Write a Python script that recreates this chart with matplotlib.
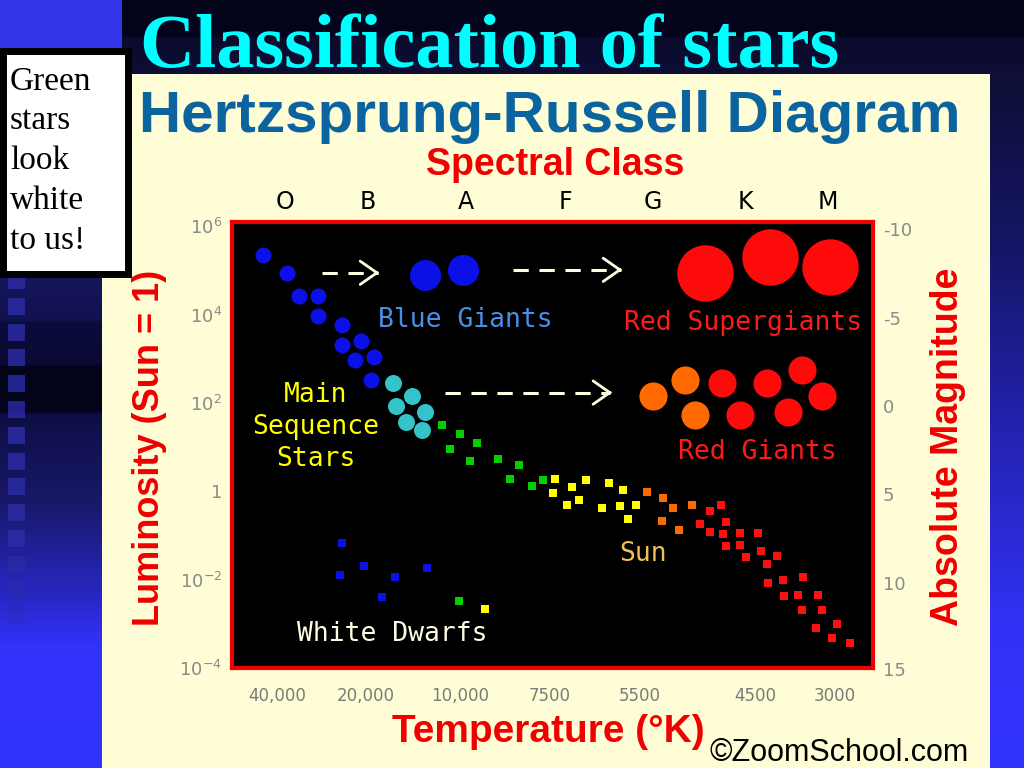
import numpy as np
import matplotlib
matplotlib.use("Agg")
import matplotlib.pyplot as plt
from matplotlib.patches import Rectangle

plt.rcParams["axes.unicode_minus"] = False

# x = spectral position (O=0 ... M=6), y = log10(L / Lsun)
class_labels = ["O", "B", "A", "F", "G", "K", "M"]
class_pos = [0.0, 0.917, 2.0, 3.094, 4.066, 5.083, 6.0]
temp_labels = ["40,000", "20,000", "10,000", "7500", "5500", "4500", "3000"]
temp_pos = [-0.088, 0.895, 1.934, 2.928, 3.923, 5.193, 6.077]
lum_pos = [6, 4, 2, 0, -2, -4]
lum_labels = [r"10$^6$", r"10$^4$", r"10$^2$", "1", r"10$^{-2}$", r"10$^{-4}$"]
mag_ticks = [-10, -5, 0, 5, 10, 15]

# main sequence, hot end (circles)
ms_blue_x = [-0.243, 0.022, 0.155, 0.365, 0.365, 0.630, 0.630, 0.840, 0.773, 0.983, 0.950]
ms_blue_y = [5.356, 4.949, 4.429, 4.429, 3.977, 3.774, 3.322, 3.412, 2.983, 3.051, 2.531]
ms_cyan_x = [1.193, 1.403, 1.227, 1.547, 1.337, 1.514]
ms_cyan_y = [2.463, 2.169, 1.944, 1.808, 1.582, 1.379]

# main sequence, cooler part (squares)
ms_green_x = [1.735, 1.934, 2.122, 1.823, 2.044, 2.354, 2.586, 2.486, 2.729, 2.851]
ms_green_y = [1.514, 1.288, 1.085, 0.949, 0.678, 0.723, 0.588, 0.271, 0.113, 0.249]
ms_yellow_x = [2.983, 2.961, 3.171, 3.326, 3.116, 3.249, 3.580, 3.503, 3.735, 3.702, 3.878, 3.790]
ms_yellow_y = [0.271, -0.045, 0.090, 0.249, -0.316, -0.203, 0.181, -0.384, 0.023, -0.339, -0.316, -0.633]
ms_orange_x = [4.000, 4.177, 4.287, 4.166, 4.354, 4.497]
ms_orange_y = [-0.023, -0.158, -0.384, -0.678, -0.881, -0.316]
ms_red_x = [4.818, 4.696, 4.586, 4.873, 4.696, 4.840, 5.028, 5.227, 4.873, 5.028, 5.094,
            5.260, 5.436, 5.326, 5.337, 5.503, 5.724, 5.514, 5.669, 5.890, 5.713, 5.934,
            5.867, 6.099, 6.044, 6.243]
ms_red_y = [-0.316, -0.452, -0.746, -0.701, -0.927, -0.972, -0.949, -0.949, -1.243, -1.220, -1.492,
            -1.356, -1.469, -1.650, -2.079, -2.011, -1.944, -2.373, -2.350, -2.350, -2.689, -2.689,
            -3.096, -3.006, -3.322, -3.435]

# giants
blue_giant_x = [1.547, 1.967]
blue_giant_y = [4.904, 5.017]
supergiant_x = [4.641, 5.359, 6.022]
supergiant_y = [4.949, 5.311, 5.085]
red_giant_orange_x = [4.066, 4.420, 4.530]
red_giant_orange_y = [2.169, 2.531, 1.740]
red_giant_red_x = [4.829, 5.028, 5.326, 5.713, 5.558, 5.934]
red_giant_red_y = [2.463, 1.740, 2.463, 2.757, 1.808, 2.169]

# white dwarfs
wd_blue_x = [0.630, 0.873, 0.608, 1.215, 1.569, 1.072]
wd_blue_y = [-1.175, -1.695, -1.898, -1.944, -1.740, -2.395]
wd_green_x = [1.923]
wd_green_y = [-2.486]
wd_yellow_x = [2.210]
wd_yellow_y = [-2.667]

# arrows (start x, end x, y)
arrows = [(0.409, 1.072, 4.95), (2.519, 3.757, 5.017), (1.768, 3.646, 2.237)]


def lum_to_mag(L):
    return 4.83 - 2.5 * L


def mag_to_lum(M):
    return (4.83 - M) / 2.5


W, H = 1024, 768
fig = plt.figure(figsize=(W / 100, H / 100), dpi=100)

# ---- slide background ----
bg = fig.add_axes([0, 0, 1, 1])
bg.set_xlim(0, W)
bg.set_ylim(H, 0)
bg.axis("off")


def grad(stops):
    ys = [s[0] for s in stops]
    cols = np.array([matplotlib.colors.to_rgb(s[1]) for s in stops])
    rows = np.arange(H)
    return np.stack([np.interp(rows, ys, cols[:, k]) for k in range(3)], axis=1)


general = grad([(0, "#03031a"), (35, "#04041c"), (38, "#0b0b2c"), (75, "#0e0e36"),
                (250, "#161668"), (450, "#2424b8"), (620, "#3131f5"), (767, "#3333ff")])
left = grad([(0, "#16165c"), (277, "#16165c"), (318, "#12124e"), (322, "#0c0c3c"),
             (363, "#0a0a34"), (367, "#03031a"), (410, "#03031a"), (414, "#0e0e44"),
             (500, "#181868"), (600, "#2828c8"), (645, "#3232fa"), (767, "#3333ff")])
img = np.repeat(general[:, None, :], W, axis=1)
img[:, :102] = left[:, None, :]
img[:48, :122] = matplotlib.colors.to_rgb("#3434e8")
bg.imshow(img, extent=(0, W, H, 0), aspect="auto", zorder=0)

for top_y in np.arange(272, 640, 25.8):
    a = 0.8 if top_y < 540 else max(0.0, 0.8 - (top_y - 540) / 110)
    bg.add_patch(Rectangle((8, top_y), 17, 17, color="#2c2ca8", alpha=a, lw=0, zorder=1))

# cream panel holding the diagram
bg.add_patch(Rectangle((102, 74), 888, H - 74, color="#fffdd5", lw=0, zorder=2))

# note box
bg.add_patch(Rectangle((3, 51), 125, 223, facecolor="white", edgecolor="black", lw=5, zorder=3))
bg.text(10, 66, "Green\nstars\nlook\nwhite\nto us!", family="Liberation Serif", fontsize=24,
        va="top", ha="left", linespacing=1.4, color="black", zorder=4)

bg.text(140, 67, "Classification of stars", family="Liberation Serif", weight="bold",
        fontsize=55, color="#00ffff", va="baseline", ha="left", zorder=4)
bg.text(550, 132, "Hertzsprung-Russell Diagram", family="Liberation Sans", weight="bold",
        fontsize=42, color="#0b64a0", va="baseline", ha="center", zorder=4)
bg.text(710, 761, "\u00a9ZoomSchool.com", family="Liberation Sans", fontsize=22,
        color="black", va="baseline", ha="left", zorder=4)

# ---- HR diagram ----
ax = fig.add_axes([232 / W, 1 - 668 / H, (873 - 232) / W, (668 - 222) / H])
ax.set_facecolor("black")
ax.set_xlim(-0.586, 6.497)
ax.set_ylim(-3.98, 6.10)
for sp in ax.spines.values():
    sp.set_color("#ee0000")
    sp.set_linewidth(3)

mono = "DejaVu Sans Mono"

# arrows
for x0, x1, y in arrows:
    ax.plot([x0, x1 - 0.05], [y, y], color="#fffde0", lw=2.2, dashes=(5, 3.5))
    ax.annotate("", xy=(x1, y), xytext=(x1 - 0.1, y),
                arrowprops=dict(arrowstyle="->,head_length=0.6,head_width=0.42",
                                color="#fffde0", lw=2, mutation_scale=20))

ax.scatter(ms_blue_x, ms_blue_y, s=133, color="#0a10e6", lw=0, zorder=3)
ax.scatter(ms_cyan_x, ms_cyan_y, s=150, color="#33c3c8", lw=0, zorder=3)
ax.scatter(blue_giant_x, blue_giant_y, s=500, color="#0a10e6", lw=0, zorder=3)
ax.scatter(supergiant_x, supergiant_y, s=1650, color="#ff0a0a", lw=0, zorder=3)
ax.scatter(red_giant_orange_x, red_giant_orange_y, s=410, color="#ff6a00", lw=0, zorder=3)
ax.scatter(red_giant_red_x, red_giant_red_y, s=410, color="#ff0a0a", lw=0, zorder=3)

ax.scatter(ms_green_x, ms_green_y, s=36, marker="s", color="#00d000", lw=0, zorder=3)
ax.scatter(ms_yellow_x, ms_yellow_y, s=40, marker="s", color="#ffff00", lw=0, zorder=3)
ax.scatter(ms_orange_x, ms_orange_y, s=40, marker="s", color="#ff6a00", lw=0, zorder=3)
ax.scatter(ms_red_x, ms_red_y, s=36, marker="s", color="#ff1010", lw=0, zorder=3)

ax.scatter(wd_blue_x, wd_blue_y, s=28, marker="s", color="#0a10e6", lw=0, zorder=3)
ax.scatter(wd_green_x, wd_green_y, s=28, marker="s", color="#00d000", lw=0, zorder=3)
ax.scatter(wd_yellow_x, wd_yellow_y, s=28, marker="s", color="#ffff00", lw=0, zorder=3)

# region labels
lab = dict(family=mono, fontsize=19, ha="center", va="center", zorder=4)
ax.text(1.989, 3.87, "Blue Giants", color="#4a8fe7", **lab)
ax.text(5.061, 3.82, "Red Supergiants", color="#ff1a1a", **lab)
ax.text(0.34, 1.45, "Main\nSequence\nStars", color="#ffff00", linespacing=1.3, **lab)
ax.text(5.215, 0.90, "Red Giants", color="#ff1a1a", **lab)
ax.text(3.956, -1.42, "Sun", color="#f0c050", **lab)
ax.text(1.182, -3.23, "White Dwarfs", color="#fffde0", **lab)

# axes ticks and labels
ax.set_xticks(temp_pos, temp_labels)
ax.set_yticks(lum_pos, lum_labels)
ax.tick_params(axis="x", length=0, pad=14, labelsize=12, labelcolor="#7a7a7a")
ax.tick_params(axis="y", length=0, pad=7, labelsize=13, labelcolor="#8a8a8a")

top = ax.secondary_xaxis("top")
top.set_xticks(class_pos, class_labels)
top.tick_params(length=0, pad=6, labelsize=17, labelcolor="black")
top.spines["top"].set_visible(False)

right = ax.secondary_yaxis("right", functions=(lum_to_mag, mag_to_lum))
right.set_yticks(mag_ticks)
right.tick_params(length=0, pad=7, labelsize=13, labelcolor="#8a8a8a")
right.spines["right"].set_visible(False)
# the "15" mark sits just below the plotted range, as in the original
ax.text(1.0 + 10 / 641, mag_to_lum(mag_ticks[-1]), str(mag_ticks[-1]),
        transform=ax.get_yaxis_transform(), ha="left", va="center",
        fontsize=13, color="#8a8a8a", clip_on=False)

red_lab = dict(family="Liberation Sans", weight="bold", color="#f00000", va="center", ha="center")
ax.set_ylabel("Luminosity (Sun = 1)", fontsize=26, **red_lab)
ax.yaxis.set_label_coords(-0.128, 0.494, transform=ax.transAxes)
right.set_ylabel("Absolute Magnitude", fontsize=27, rotation=90, **red_lab)
right.yaxis.set_label_coords(1.117, 0.495, transform=ax.transAxes)
ax.set_xlabel("Temperature (\u00b0K)", fontsize=28, **red_lab)
ax.xaxis.set_label_coords(0.493, -0.1435, transform=ax.transAxes)
top.set_xlabel("Spectral Class", fontsize=27, **red_lab)
top.xaxis.set_label_coords(0.504, 1.128, transform=ax.transAxes)

fig.savefig("out.png", dpi=100)
